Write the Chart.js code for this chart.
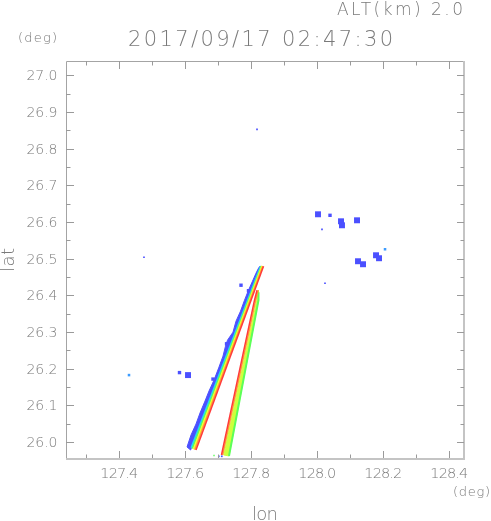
<!DOCTYPE html>
<html>
<head>
<meta charset="utf-8">
<script src="https://cdn.jsdelivr.net/npm/chart.js@4/dist/chart.umd.min.js"></script>
<style>
html,body{margin:0;padding:0;background:#fff;overflow:hidden}
canvas{display:block}
</style>
</head>
<body>
<canvas id="c" width="491" height="521"></canvas>
<script>
// ---------- text ----------
const titleText = "2017/09/17 02:47:30";
const altText = "ALT(km) 2.0";
const unitText = "(deg)";
const xAxisTitle = "lon";
const yAxisTitle = "lat";

// ---------- axes (deg) ----------
const lonRange = [127.2385, 128.4445];
const latRange = [25.9564, 27.0395];
const xTicks = [127.4, 127.6, 127.8, 128.0, 128.2, 128.4];
const xMinorTicks = [127.3, 127.5, 127.7, 127.9, 128.1, 128.3];
const yTicks = [26.0, 26.1, 26.2, 26.3, 26.4, 26.5, 26.6, 26.7, 26.8, 26.9, 27.0];
const yMinorTicks = [26.05, 26.15, 26.25, 26.35, 26.45, 26.55, 26.65, 26.75, 26.85, 26.95];

// ---------- echo data [lon, lat] ----------
// left (western) streak
const streakA_blue = [
  [127.6052,25.9864],[127.6173,26.0191],[127.6324,26.0490],[127.6445,26.0790],
  [127.6597,26.1117],[127.6718,26.1390],[127.6870,26.1689],[127.7021,26.2044],
  [127.7142,26.2343],[127.7218,26.2616],[127.7279,26.2779],[127.7445,26.2997],
  [127.7536,26.3297],[127.7673,26.3569],[127.7794,26.3869],[127.7915,26.4142],
  [127.8036,26.4387],[127.8142,26.4605],[127.8233,26.4768],
  [127.8273,26.4796],[127.6161,25.9782],[127.6052,25.9864]
];
const streakA_cyan   = [[127.6179,25.9840],[127.8282,26.4796]];
const streakA_green  = [[127.6215,25.9820],[127.8303,26.4796]];
const streakA_yellow = [[127.6252,25.9800],[127.8327,26.4810]];
const streakA_orange = [[127.6288,25.9790],[127.8348,26.4796]];
const streakA_red    = [[127.6324,25.9782],[127.8370,26.4796]];
// right (eastern) streak
const streakB_fill   = [[127.7170,25.9646],[127.8170,26.3869],[127.8218,26.4142],
                        [127.8218,26.3869],[127.7324,25.9619],[127.7170,25.9646]];
const streakB_green  = [[127.7324,25.9619],[127.8218,26.3869],[127.8218,26.4087]];
const streakB_orange = [[127.7133,25.9646],[127.8133,26.3869],[127.8209,26.4142]];
const streakB_red    = [[127.7097,25.9646],[127.8097,26.3869],[127.8173,26.4142]];
// isolated echo cells
const echoLarge  = [[128.0021,26.6213],[128.0718,26.6022],[128.0748,26.5913],[128.1203,26.6049],
                    [128.1233,26.4932],[128.1385,26.4850],[128.1779,26.5095],[128.1870,26.5014],
                    [127.6082,26.1826]];
const echoMedium = [[128.0385,26.6185],[127.5824,26.1894],[127.6839,26.1717],[127.7915,26.4128],
                    [127.7688,26.4278],[127.7250,26.2680]];
const echoSmall  = [[127.8173,26.8529],[127.4748,26.5041],[128.0142,26.5804],[128.0233,26.4332],
                    [127.7015,25.9610],[127.7106,25.9610]];
const echoLight  = [[127.4294,26.1826],[128.2052,26.5259]];
const echoGreen  = [[127.6870,25.9630]];

// ---------- styles ----------
const C = {
  blue:'#4b50ff', light:'#3c9cff', cyan:'#22d4ff', green:'#5cff58', yg:'#cfff3c',
  yellow:'#f2ff30', orange:'#ffa030', red:'#ff3a3a'
};
const FONT = '"DejaVu Sans", "Liberation Sans", sans-serif';
const TEXT_COLOR = '#7a7a7a';

const pts = a => a.map(([x, y]) => ({x, y}));
function poly(arr, color, order) {
  return {type:'line', data:pts(arr), showLine:true, fill:'shape', backgroundColor:color,
          borderColor:color, borderWidth:1, pointRadius:0, tension:0, order};
}
function band(arr, color, width, order) {
  return {type:'line', data:pts(arr), showLine:true, fill:false, borderColor:color,
          borderWidth:width, pointRadius:0, tension:0, order, borderCapStyle:'butt'};
}
function cells(arr, color, radius, order) {
  return {type:'scatter', data:pts(arr), showLine:false, pointStyle:'rect', pointRadius:radius,
          pointBackgroundColor:color, pointBorderWidth:0, pointBorderColor:color, order};
}

const datasets = [
  poly(streakA_blue, C.blue, 20),
  band(streakA_cyan, C.cyan, 1.7, 19),
  band(streakA_green, C.green, 1.7, 18),
  band(streakA_yellow, C.yellow, 1.7, 17),
  band(streakA_orange, C.orange, 1.6, 16),
  band(streakA_red, C.red, 1.5, 15),
  poly(streakB_fill, C.yg, 14),
  band(streakB_green, C.green, 2, 13),
  band(streakB_orange, C.orange, 1.5, 12),
  band(streakB_red, C.red, 1.5, 11),
  cells(echoLarge, C.blue, 4.2, 5),
  cells(echoMedium, C.blue, 2.4, 4),
  cells(echoSmall, C.blue, 1.2, 3),
  cells(echoLight, C.light, 1.8, 2),
  cells(echoGreen, C.green, 1, 1)
];

function drawFit(ctx, text, x, y, size, width, align) {
  ctx.save();
  ctx.font = `200 ${size}px ${FONT}`;
  ctx.fillStyle = TEXT_COLOR;
  ctx.textBaseline = 'alphabetic';
  ctx.textAlign = 'left';
  const ok = 'letterSpacing' in ctx;
  if (ok) ctx.letterSpacing = '0px';
  const w0 = ctx.measureText(text).width;
  const left = align === 'center' ? x - width / 2 : (align === 'right' ? x - width : x);
  if (ok && text.length > 1) {
    ctx.letterSpacing = ((width - w0) / (text.length - 1)).toFixed(2) + 'px';
    ctx.fillText(text, left, y);
  } else {
    ctx.translate(left, y);
    ctx.scale(width / w0, 1);
    ctx.fillText(text, 0, 0);
  }
  ctx.restore();
}

const framePlugin = {
  id: 'frame',
  afterDraw(chart) {
    const ctx = chart.ctx;
    const a = chart.chartArea;
    const sx = chart.scales.x, sy = chart.scales.y;
    ctx.save();
    // frame
    ctx.strokeStyle = '#a4a4a4';
    ctx.lineWidth = 1;
    ctx.beginPath();
    ctx.moveTo(a.left + 0.5, a.bottom + 0.5);
    ctx.lineTo(a.left + 0.5, a.top + 0.5);
    ctx.lineTo(a.right - 0.5, a.top + 0.5);
    ctx.stroke();
    ctx.strokeStyle = '#c4c4c4';
    ctx.lineWidth = 2;
    ctx.beginPath();
    ctx.moveTo(a.right, a.top);
    ctx.lineTo(a.right, a.bottom + 1);
    ctx.lineTo(a.left, a.bottom + 1);
    ctx.stroke();
    // ticks (inward)
    ctx.strokeStyle = '#9a9a9a';
    ctx.lineWidth = 1;
    ctx.beginPath();
    const tx = (v, len) => {
      const p = Math.round(sx.getPixelForValue(v)) + 0.5;
      ctx.moveTo(p, a.bottom); ctx.lineTo(p, a.bottom - len);
      ctx.moveTo(p, a.top); ctx.lineTo(p, a.top + len + 1);
    };
    const ty = (v, len) => {
      const p = Math.round(sy.getPixelForValue(v)) + 0.5;
      ctx.moveTo(a.left, p); ctx.lineTo(a.left + len + 1, p);
      ctx.moveTo(a.right, p); ctx.lineTo(a.right - len, p);
    };
    xTicks.forEach(v => tx(v, 7));
    xMinorTicks.forEach(v => tx(v, 3.5));
    yTicks.forEach(v => ty(v, 7));
    yMinorTicks.forEach(v => ty(v, 3.5));
    ctx.stroke();
    ctx.restore();

    // tick labels
    xTicks.forEach(v => drawFit(ctx, v.toFixed(1), sx.getPixelForValue(v), a.bottom + 20, 14.5, 38, 'center'));
    yTicks.forEach(v => drawFit(ctx, v.toFixed(1), a.left - 8.5, sy.getPixelForValue(v) + 5, 14, 31, 'right'));

    // titles
    drawFit(ctx, titleText, 128, 45.5, 21, 265, 'left');
    drawFit(ctx, altText, 463, 15, 17, 126, 'right');
    drawFit(ctx, unitText, 18, 42, 13, 39, 'left');
    drawFit(ctx, unitText, 490, 496, 13, 37, 'right');
    drawFit(ctx, xAxisTitle, 265, 519.5, 18, 26, 'center');
    ctx.save();
    ctx.translate(14, 260);
    ctx.rotate(-Math.PI / 2);
    drawFit(ctx, yAxisTitle, 0, 0, 18, 24, 'center');
    ctx.restore();
  }
};

new Chart(document.getElementById('c').getContext('2d'), {
  type: 'scatter',
  data: { datasets },
  options: {
    responsive: false,
    animation: false,
    devicePixelRatio: 1,
    layout: { padding: { left: 66, top: 61, right: 27, bottom: 63 } },
    scales: {
      x: { type: 'linear', display: false, min: lonRange[0], max: lonRange[1] },
      y: { type: 'linear', display: false, min: latRange[0], max: latRange[1] }
    },
    plugins: { legend: { display: false }, tooltip: { enabled: false }, title: { display: false } }
  },
  plugins: [framePlugin]
});
</script>
</body>
</html>
